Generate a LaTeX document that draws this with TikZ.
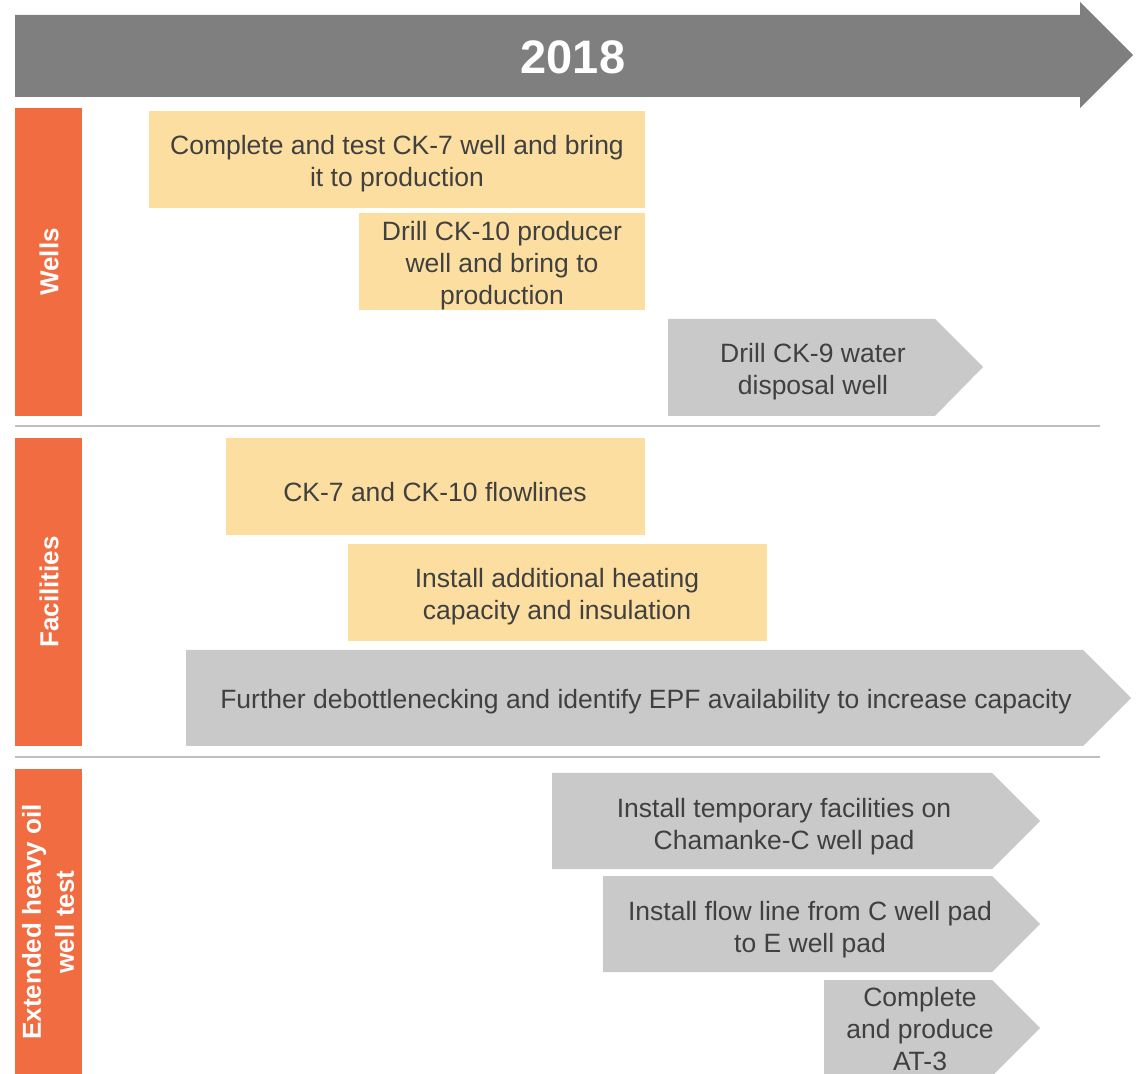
\documentclass[tikz,border=0pt]{standalone}
\usepackage{fontspec}
\setmainfont{Liberation Sans}
\definecolor{orng}{HTML}{F26C42}
\definecolor{ylw}{HTML}{FCDFA0}
\definecolor{gryA}{HTML}{C9C9C9}
\definecolor{gryT}{HTML}{7F7F7F}
\definecolor{txt}{HTML}{404040}
\definecolor{sep}{HTML}{BFBFBF}
\begin{document}
\begin{tikzpicture}[x=0.5pt,y=-0.5pt,
  lbl/.style={font=\fontsize{13.25}{16}\selectfont, text=txt, align=center, inner sep=0pt},
  side/.style={font=\bfseries\fontsize{13}{16.5}\selectfont, text=white, align=center, rotate=90, inner sep=0pt},
  sepline/.style={draw=sep, line width=1pt}]
\clip (0,0) rectangle (1136,1074);
\fill[white] (0,0) rectangle (1136,1074);
% top arrow
\fill[gryT] (15,15) -- (1080,15) -- (1080,2) -- (1133,55) -- (1080,108) -- (1080,97) -- (15,97) -- cycle;
\node[font=\bfseries\fontsize{23.5}{28}\selectfont, text=white, inner sep=0pt] (yr) at (573,57) {2018};
% side bars
\fill[orng] (15,108) rectangle (82,416);
\fill[orng] (15,438) rectangle (82,746);
\fill[orng] (15,769) rectangle (82,1074);
\node[side] (wells) at (49,262) {Wells};
\node[side] (fac) at (49,592) {Facilities};
\node[side] (ext) at (48,922) {Extended heavy oil\\well test};
% separators
\coordinate (s1a) at (15,426); \coordinate (s1b) at (1100,426);
\coordinate (s2a) at (15,757); \coordinate (s2b) at (1100,757);
\draw[sepline] (s1a) -- (s1b);
\draw[sepline] (s2a) -- (s2b);
% wells
\fill[ylw] (149,111) rectangle (645,208);
\node[lbl] (w1) at (397,164) {Complete and test CK-7 well and bring\\it to production};
\fill[ylw] (359,213) rectangle (645,310);
\node[lbl] (w2) at (502,266) {Drill CK-10 producer\\well and bring to\\production};
\fill[gryA] (668,319) -- (935,319) -- (983,367) -- (935,416) -- (668,416) -- cycle;
\node[lbl] (w3) at (813,372) {Drill CK-9 water\\disposal well};
% facilities
\fill[ylw] (226,438) rectangle (645,535);
\node[lbl] (f1) at (435,492) {CK-7 and CK-10 flowlines};
\fill[ylw] (348,544) rectangle (767,641);
\node[lbl] (f2) at (557,597) {Install additional heating\\capacity and insulation};
\fill[gryA] (186,650) -- (1083,650) -- (1131,698) -- (1083,746) -- (186,746) -- cycle;
\node[lbl] (f3) at (646,702) {Further debottlenecking and identify EPF availability to increase capacity};
% extended heavy oil
\fill[gryA] (552,773) -- (992,773) -- (1040,821) -- (992,869) -- (552,869) -- cycle;
\node[lbl] (e1) at (784,827) {Install temporary facilities on\\Chamanke-C well pad};
\fill[gryA] (603,876) -- (992,876) -- (1040,924) -- (992,972) -- (603,972) -- cycle;
\node[lbl] (e2) at (810,930) {Install flow line from C well pad\\to E well pad};
\fill[gryA] (824,980) -- (992,980) -- (1040,1028) -- (992,1076) -- (824,1076) -- cycle;
\node[lbl] (e3) at (920,1029) {Complete\\and produce\\AT-3};
\end{tikzpicture}
\end{document}
